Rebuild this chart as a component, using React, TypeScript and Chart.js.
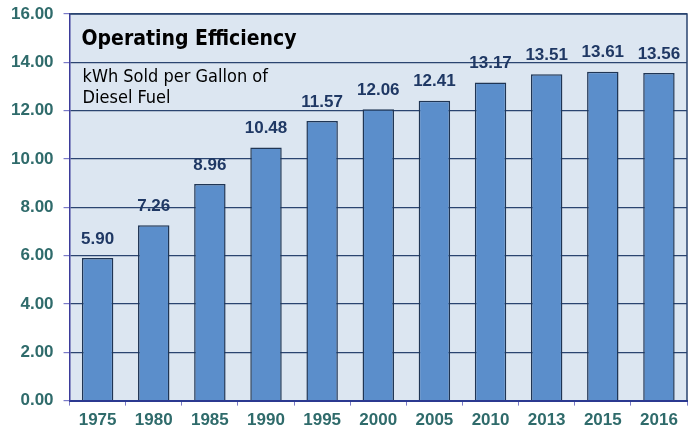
import React, { useEffect, useRef } from "react";
import { Chart, registerables } from "chart.js";

Chart.register(...registerables);

const categories = ["1975", "1980", "1985", "1990", "1995", "2000", "2005", "2010", "2013", "2015", "2016"];
const efficiency = [5.9, 7.26, 8.96, 10.48, 11.57, 12.06, 12.41, 13.17, 13.51, 13.61, 13.56];
const titleText = "Operating Efficiency";
const subtitleLines = ["kWh Sold per Gallon of", "Diesel Fuel"];

const TEAL = "#2f6b6b";
const NAVY = "#1f3864";

const bgPlugin = {
  id: "plotBg",
  beforeDraw(chart: any) {
    const { ctx, chartArea } = chart;
    ctx.save();
    ctx.fillStyle = "#dce6f1";
    ctx.fillRect(chartArea.left, chartArea.top, chartArea.right - chartArea.left, chartArea.bottom - chartArea.top);
    ctx.restore();
  },
  afterDatasetsDraw(chart: any) {
    const { ctx, chartArea } = chart;
    ctx.save();
    ctx.strokeStyle = "#2a4470";
    ctx.lineWidth = 1.5;
    ctx.beginPath();
    ctx.moveTo(chartArea.left, chartArea.top);
    ctx.lineTo(chartArea.right, chartArea.top);
    ctx.lineTo(chartArea.right, chartArea.bottom);
    ctx.stroke();
    ctx.fillStyle = "#000000";
    ctx.textBaseline = "middle";
    ctx.textAlign = "left";
    ctx.font = "bold 21px 'DejaVu Sans Condensed', 'DejaVu Sans', sans-serif";
    ctx.fillText(titleText, chartArea.left + 12, chartArea.top + 26);
    ctx.font = "18px 'DejaVu Sans Condensed', 'DejaVu Sans', sans-serif";
    subtitleLines.forEach((line, i) => {
      ctx.fillText(line, chartArea.left + 13, chartArea.top + 63 + i * 21);
    });
    const meta = chart.getDatasetMeta(0);
    ctx.font = "bold 17px 'Liberation Sans', Arial, sans-serif";
    ctx.fillStyle = NAVY;
    ctx.textAlign = "center";
    meta.data.forEach((bar: any, i: number) => {
      ctx.fillText(efficiency[i].toFixed(2), bar.x, bar.y - 19);
    });
    ctx.restore();
  },
};

export default function App() {
  const ref = useRef<HTMLCanvasElement | null>(null);
  useEffect(() => {
    document.body.style.margin = "0";
    const chart = new Chart(ref.current as HTMLCanvasElement, {
      type: "bar",
      data: {
        labels: categories,
        datasets: [
          {
            data: efficiency,
            backgroundColor: "#5b8ecb",
            borderColor: "#1f3554",
            borderWidth: 1.5,
            categoryPercentage: 1,
            barPercentage: 0.56,
          },
        ],
      },
      options: {
        animation: false,
        responsive: false,
        maintainAspectRatio: false,
        layout: { padding: { top: 14, right: 7, bottom: -6, left: 1 } },
        plugins: { legend: { display: false }, tooltip: { enabled: false }, title: { display: false } },
        scales: {
          x: {
            offset: true,
            grid: {
              display: true,
              drawOnChartArea: false,
              drawTicks: true,
              tickLength: 5,
              offset: true,
              color: "#7b7bc8",
              tickColor: "#7b7bc8",
            },
            border: { display: true, color: "#2b3990", width: 2 },
            ticks: {
              color: TEAL,
              font: { family: "'Liberation Sans', Arial, sans-serif", size: 17, weight: "bold" },
              padding: 5,
              maxRotation: 0,
            },
          },
          y: {
            min: 0,
            max: 16,
            afterFit: (scale: any) => {
              scale.paddingTop = 0;
            },
            ticks: {
              stepSize: 2,
              color: TEAL,
              font: { family: "'Liberation Sans', Arial, sans-serif", size: 17, weight: "bold" },
              padding: 10,
              callback: (v: any) => Number(v).toFixed(2),
            },
            grid: { color: "#2a4470", lineWidth: 1.2, tickLength: 6, tickColor: "#7b7bc8" },
            border: { display: true, color: "#3b3b9a", width: 1.5 },
          },
        },
      },
      plugins: [bgPlugin],
    });
    return () => chart.destroy();
  }, []);
  return (
    <div style={{ position: "fixed", left: 0, top: 0, width: 694, height: 430 }}>
      <canvas ref={ref} width={694} height={430} style={{ width: 694, height: 430, display: "block" }} />
    </div>
  );
}
